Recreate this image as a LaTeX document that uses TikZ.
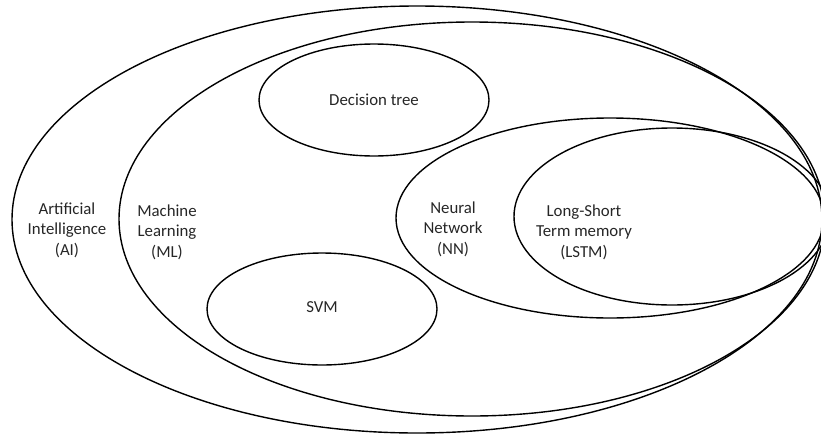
\documentclass[tikz,border=0pt]{standalone}
\usepackage{fontspec}
\setmainfont{Carlito}
\usetikzlibrary{shapes.geometric}
\begin{document}
\begin{tikzpicture}[x=1pt,y=-1pt,
  set/.style={draw=black, line width=1.4pt, ellipse, inner sep=0pt},
  lbl/.style={align=center, inner sep=0pt, text=black!85,
    font=\fontsize{16.8}{20.5}\selectfont}]
\useasboundingbox (0,0) rectangle (821,434);
\clip (0,0) rectangle (821,434);

% nested sets
\node[set, minimum width=810pt, minimum height=427pt] (ai)   at (417,219.5) {};
\node[set, minimum width=706pt, minimum height=394pt] (ml)   at (472,219) {};
\node[set, minimum width=230pt, minimum height=112pt] (dt)   at (374,100) {};
\node[set, minimum width=230pt, minimum height=112pt] (svm)  at (322,309) {};
\node[set, minimum width=428pt, minimum height=200pt] (nn)   at (610,218) {};
\node[set, minimum width=316pt, minimum height=177pt] (lstm) at (672,216.5) {};

% labels
\node[lbl] (tai)   at (67,230)  {Artificial\\Intelligence\\(AI)};
\node[lbl] (tml)   at (167,232) {Machine\\Learning\\(ML)};
\node[lbl] (tdt)   at (374,100) {Decision tree};
\node[lbl] (tsvm)  at (322,307) {SVM};
\node[lbl] (tnn)   at (453,229) {Neural\\Network\\(NN)};
\node[lbl] (tlstm) at (584,232) {Long-Short\\Term memory\\(LSTM)};
\end{tikzpicture}
\end{document}
